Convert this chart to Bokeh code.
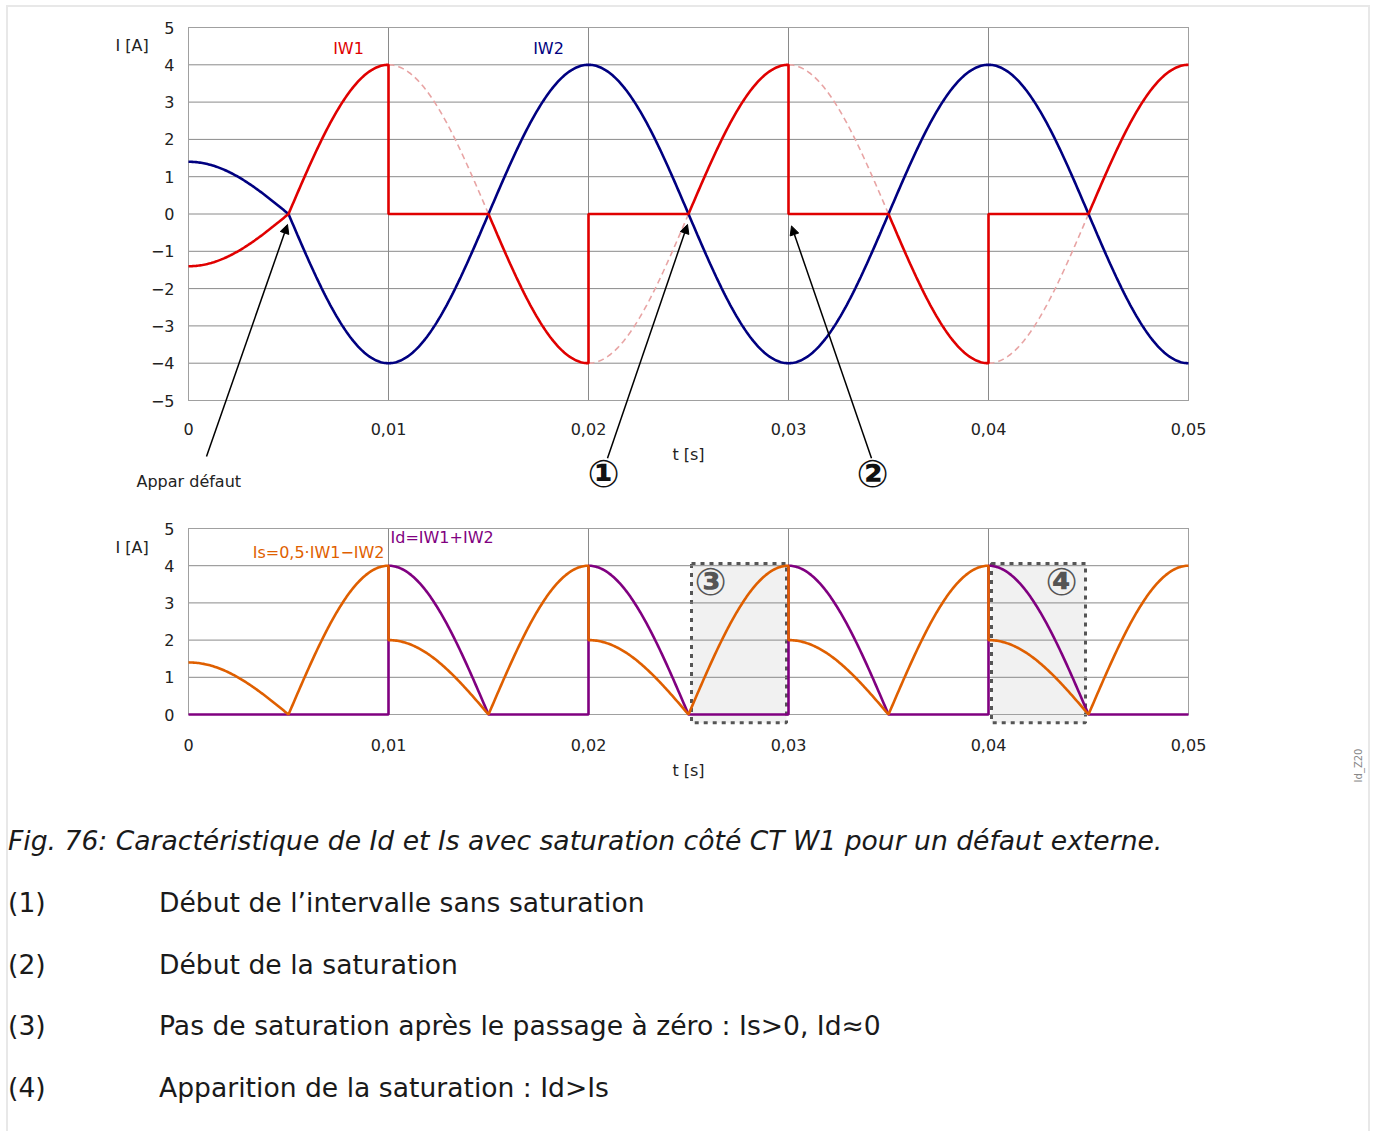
import numpy as np
from bokeh.plotting import figure
from bokeh.models import (Range1d, CustomJSTickFormatter, Label, Arrow, NormalHead,
                          BoxAnnotation, Div, ColumnDataSource, LinearAxis, FixedTicker)
from bokeh.layouts import column
from bokeh.embed import file_html
from bokeh.resources import INLINE

# ---------------- data ----------------
t_ticks = [0, 0.01, 0.02, 0.03, 0.04, 0.05]
t_tick_labels = ["0", "0,01", "0,02", "0,03", "0,04", "0,05"]
top_y_ticks = [-5, -4, -3, -2, -1, 0, 1, 2, 3, 4, 5]
top_y_labels = ["\u22125", "\u22124", "\u22123", "\u22122", "\u22121", "0", "1", "2", "3", "4", "5"]
bot_y_ticks = [0, 1, 2, 3, 4, 5]
bot_y_labels = ["0", "1", "2", "3", "4", "5"]

freq_hz = 50.0          # network frequency
prefault_amp = 1.4      # load current before the fault [A]
fault_amp = 4.0         # fault current amplitude [A]
fault_start = 0.005     # instant of fault appearance [s]
seg_bounds = [0, 0.005, 0.01, 0.015, 0.02, 0.025, 0.03, 0.035, 0.04, 0.045, 0.05]
seg_saturated = [False, False, True, False, True, False, True, False, True, False]

FONT = "DejaVu Sans"
C_IW1 = "#e00000"
C_IW2 = "#000080"
C_IDEAL = "#e8a4a4"
C_IS = "#df5f00"
C_ID = "#800080"
C_GRID = "#8a8a8a"
C_TXT = "#222222"

# ---------------- waveforms ----------------
w = 2 * np.pi * freq_hz


def iw2_of(t):
    return np.where(t < fault_start, prefault_amp * np.cos(w * t),
                    -fault_amp * np.sin(w * (t - fault_start)))


t_all, iw1_all, iw2_all = [], [], []
ideal_xs, ideal_ys = [], []
for a, b, sat in zip(seg_bounds[:-1], seg_bounds[1:], seg_saturated):
    t = np.linspace(a, b, 80)
    i2 = iw2_of(t)
    i1 = np.zeros_like(t) if sat else -i2
    if sat:
        ideal_xs.append(list(t))
        ideal_ys.append(list(-i2))
    t_all.append(t); iw1_all.append(i1); iw2_all.append(i2)
t_all = np.concatenate(t_all)
iw1_all = np.concatenate(iw1_all)
iw2_all = np.concatenate(iw2_all)
is_all = 0.5 * np.abs(iw1_all - iw2_all)
id_all = np.abs(iw1_all + iw2_all)

src = ColumnDataSource(dict(t=t_all, iw1=iw1_all, iw2=iw2_all, Is=is_all, Id=id_all))

FMT_CODE = """
const i = tv.findIndex(v => Math.abs(v - tick) < 1e-9);
return i >= 0 ? tl[i] : '';
"""


def fmt(ticks, labels):
    return CustomJSTickFormatter(args=dict(tv=ticks, tl=labels), code=FMT_CODE)


# ---------------- layout geometry (pixels) ----------------
W = 1360          # canvas width
LEFT = 180        # canvas x of t = 0
PX_PER_S = 20000  # horizontal scale


def panel(height, top_px, y_lo, y_hi, frame_px, yticks, ylabels, xstand):
    pxu = frame_px / (y_hi - y_lo)
    yr = Range1d(y_hi - (height - top_px) / pxu, y_hi + top_px / pxu)
    xr = Range1d(-LEFT / PX_PER_S, (W - LEFT) / PX_PER_S)
    p = figure(width=W, height=height, x_range=xr, y_range=yr,
               output_backend="svg", toolbar_location=None,
               x_axis_location=None, y_axis_location=None, min_border=0)
    p.outline_line_color = None
    p.xgrid.visible = False
    p.ygrid.visible = False
    p.background_fill_color = None
    p.border_fill_color = None

    # grid lines and plot-area border, limited to the plot area
    p.segment(x0=t_ticks, x1=t_ticks, y0=[y_lo] * len(t_ticks), y1=[y_hi] * len(t_ticks),
              line_color=C_GRID, line_width=1)
    p.segment(x0=[t_ticks[0]] * len(yticks), x1=[t_ticks[-1]] * len(yticks), y0=yticks, y1=yticks,
              line_color=C_GRID, line_width=1)
    p.quad(left=[t_ticks[0]], right=[t_ticks[-1]], bottom=[y_lo], top=[y_hi],
           fill_color=None, line_color="#a0a0a0", line_width=1)

    xa = LinearAxis(fixed_location=y_lo, ticker=FixedTicker(ticks=t_ticks),
                    formatter=fmt(t_ticks, t_tick_labels), bounds=(t_ticks[0], t_ticks[-1]),
                    axis_label="t [s]")
    ya = LinearAxis(fixed_location=t_ticks[0], ticker=FixedTicker(ticks=yticks),
                    formatter=fmt(yticks, ylabels), bounds=(y_lo, y_hi))
    for ax in (xa, ya):
        ax.axis_line_color = None
        ax.major_tick_line_color = None
        ax.minor_tick_line_color = None
        ax.major_label_text_font = FONT
        ax.major_label_text_font_size = "16px"
        ax.major_label_text_color = C_TXT
    xa.major_label_standoff = xstand
    ya.major_label_standoff = 8
    xa.axis_label_text_font = FONT
    xa.axis_label_text_font_style = "normal"
    xa.axis_label_text_font_size = "16px"
    xa.axis_label_text_color = C_TXT
    xa.axis_label_standoff = 7
    p.add_layout(xa, "below")
    p.add_layout(ya, "left")
    return p


def lab(p, text, x, y, color=C_TXT, size="16px", align="left", **kw):
    p.add_layout(Label(x=x, y=y, text=text, text_color=color, text_font=FONT,
                       text_font_size=size, text_align=align,
                       text_baseline="middle", **kw))


# ---------------- top figure ----------------
p1 = panel(498, 20, -5, 5, 373, top_y_ticks, top_y_labels, 16)

p1.multi_line(xs=ideal_xs, ys=ideal_ys, line_color=C_IDEAL, line_width=1.6, line_dash="6 4")
p1.line("t", "iw2", source=src, line_color=C_IW2, line_width=2.6)
p1.line("t", "iw1", source=src, line_color=C_IW1, line_width=2.6)

lab(p1, "I [A]", -0.00365, 4.52)
lab(p1, "IW1", 0.008, 4.44, color=C_IW1, align="center")
lab(p1, "IW2", 0.018, 4.44, color=C_IW2, align="center")
lab(p1, "Appar défaut", -0.0026, -7.17)
lab(p1, "\u2460", 0.02075, -6.96, color="#111111", size="38px", align="center",
    text_font_style="bold")
lab(p1, "\u2461", 0.0342, -6.96, color="#111111", size="38px", align="center",
    text_font_style="bold")

for xs, ys, xe, ye in [(0.0009, -6.5, 0.00495, -0.28),
                       (0.02095, -6.55, 0.02495, -0.28),
                       (0.03415, -6.55, 0.03015, -0.32)]:
    p1.add_layout(Arrow(end=NormalHead(size=9, fill_color="black", line_color="black", line_width=1),
                        x_start=xs, y_start=ys, x_end=xe, y_end=ye,
                        line_color="black", line_width=1.5))

# ---------------- bottom figure ----------------
p2 = panel(280, 23, 0, 5, 186, bot_y_ticks, bot_y_labels, 18)

for left, right in [(0.02515, 0.0299), (0.04015, 0.04485)]:
    p2.add_layout(BoxAnnotation(left=left, right=right, bottom=-0.22, top=4.06,
                                fill_color="#f1f1f1", fill_alpha=1.0,
                                line_color="#555555", line_alpha=1.0, line_width=3,
                                line_dash="4 5", level="image"))

p2.line("t", "Id", source=src, line_color=C_ID, line_width=2.6)
p2.line("t", "Is", source=src, line_color=C_IS, line_width=2.6)

lab(p2, "I [A]", -0.00365, 4.5)
lab(p2, "Is=0,5\u00b7IW1\u2212IW2", 0.0098, 4.35, color=C_IS, align="right")
lab(p2, "Id=IW1+IW2", 0.0101, 4.76, color=C_ID)
lab(p2, "\u2462", 0.0261, 3.55, color="#555555", size="38px", align="center",
    text_font_style="bold")
lab(p2, "\u2463", 0.04365, 3.55, color="#555555", size="38px", align="center",
    text_font_style="bold")
lab(p2, "Id_Z20", 0.0585, -1.37, color="#888888", size="10px", align="center", angle=np.pi / 2)

# ---------------- caption ----------------
rows = [("(1)", "Début de l’intervalle sans saturation"),
        ("(2)", "Début de la saturation"),
        ("(3)", "Pas de saturation après le passage à zéro : Is&gt;0, Id≈0"),
        ("(4)", "Apparition de la saturation : Id&gt;Is")]
row_tops = [98, 160, 221, 283]
html = ['<div style="position:relative;width:1360px;height:340px;'
        'font-family:\'DejaVu Sans\';font-size:26.6px;color:#1a1a1a;">',
        '<div style="position:absolute;left:-5px;top:36px;line-height:30px;'
        'font-style:italic;white-space:nowrap;">Fig. 76: Caractéristique de Id et Is avec '
        'saturation côté CT W1 pour un défaut externe.</div>']
for (num, txt), top in zip(rows, row_tops):
    html.append(f'<div style="position:absolute;left:-5px;top:{top}px;line-height:30px;'
                f'white-space:nowrap;">{num}</div>')
    html.append(f'<div style="position:absolute;left:146px;top:{top}px;line-height:30px;'
                f'white-space:nowrap;">{txt}</div>')
html.append('</div>')
cap = Div(text="".join(html), width=W, height=340)

layout = column(p1, p2, cap, spacing=0, margin=(5, 0, 0, 6), width=W + 4,
                styles={"border-left": "2px solid #e8e8e8", "border-top": "2px solid #e8e8e8",
                        "border-right": "2px solid #e8e8e8", "box-sizing": "border-box"})

open("out.html", "w").write(file_html(layout, INLINE))
